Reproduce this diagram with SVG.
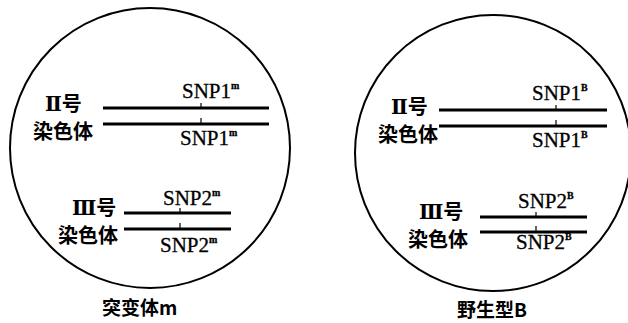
<svg xmlns="http://www.w3.org/2000/svg" width="628" height="323" viewBox="0 0 628 323">
<style>
.circ{fill:none;stroke:#000;stroke-width:2}
.chr{stroke:#000;stroke-width:3.2;fill:none}
.tick{stroke:#000;stroke-width:1.2}
.snp{font-family:"Liberation Serif","Times New Roman",serif;font-size:21px;fill:#000;stroke:#000;stroke-width:0.3}
.sup{font-size:10px;font-weight:bold}
.cn{font-family:"Noto Sans CJK SC","Noto Sans CJK TC",sans-serif;font-weight:bold;font-size:20px;fill:#000}
.rn{font-family:"Liberation Serif","DejaVu Serif",serif;font-weight:bold}
.cap{font-family:"Noto Sans CJK SC","Liberation Serif",serif;font-weight:bold;font-size:19px;fill:#000}
</style>
<rect width="628" height="323" fill="#fff"/>
<g id="mutant">
  <circle class="circ" cx="150" cy="148" r="140"/>
  <g id="m-chr2">
    <text class="cn" x="45" y="111"><tspan class="rn">Ⅱ</tspan>号</text>
    <text class="cn" x="33" y="139">染色体</text>
    <line class="chr" x1="103" y1="108" x2="269" y2="108"/>
    <line class="chr" x1="103" y1="124" x2="269" y2="124"/>
    <line class="tick" x1="201" y1="103" x2="201" y2="108"/>
    <line class="tick" x1="201" y1="118" x2="201" y2="124"/>
    <text class="snp" x="182" y="98">SNP1<tspan class="sup" dy="-9">m</tspan></text>
    <text class="snp" x="180" y="145">SNP1<tspan class="sup" dy="-9">m</tspan></text>
  </g>
  <g id="m-chr3">
    <text class="cn" x="72" y="215"><tspan class="rn">Ⅲ</tspan>号</text>
    <text class="cn" x="58" y="243">染色体</text>
    <line class="chr" x1="124" y1="213" x2="231" y2="213"/>
    <line class="chr" x1="124" y1="229" x2="231" y2="229"/>
    <line class="tick" x1="180" y1="208" x2="180" y2="213"/>
    <line class="tick" x1="180" y1="223" x2="180" y2="229"/>
    <text class="snp" x="163" y="205">SNP2<tspan class="sup" dy="-9">m</tspan></text>
    <text class="snp" x="160" y="252">SNP2<tspan class="sup" dy="-9">m</tspan></text>
  </g>
  <text class="cap" x="102" y="315">突变体m</text>
</g>
<g id="wildtype">
  <circle class="circ" cx="493" cy="153" r="138"/>
  <g id="w-chr2">
    <text class="cn" x="391" y="114"><tspan class="rn">Ⅱ</tspan>号</text>
    <text class="cn" x="378" y="142">染色体</text>
    <line class="chr" x1="439" y1="110" x2="607" y2="110"/>
    <line class="chr" x1="439" y1="126" x2="607" y2="126"/>
    <line class="tick" x1="556" y1="105" x2="556" y2="110"/>
    <line class="tick" x1="556" y1="120" x2="556" y2="126"/>
    <text class="snp" x="532" y="100">SNP1<tspan class="sup" dy="-9">B</tspan></text>
    <text class="snp" x="532" y="147">SNP1<tspan class="sup" dy="-9">B</tspan></text>
  </g>
  <g id="w-chr3">
    <text class="cn" x="419" y="219"><tspan class="rn">Ⅲ</tspan>号</text>
    <text class="cn" x="408" y="247">染色体</text>
    <line class="chr" x1="480" y1="217" x2="587" y2="217"/>
    <line class="chr" x1="480" y1="232" x2="587" y2="232"/>
    <line class="tick" x1="536" y1="212" x2="536" y2="217"/>
    <line class="tick" x1="536" y1="226" x2="536" y2="232"/>
    <text class="snp" x="518" y="208">SNP2<tspan class="sup" dy="-9">B</tspan></text>
    <text class="snp" x="516" y="249">SNP2<tspan class="sup" dy="-9">B</tspan></text>
  </g>
  <text class="cap" x="457" y="317">野生型B</text>
</g>
</svg>
